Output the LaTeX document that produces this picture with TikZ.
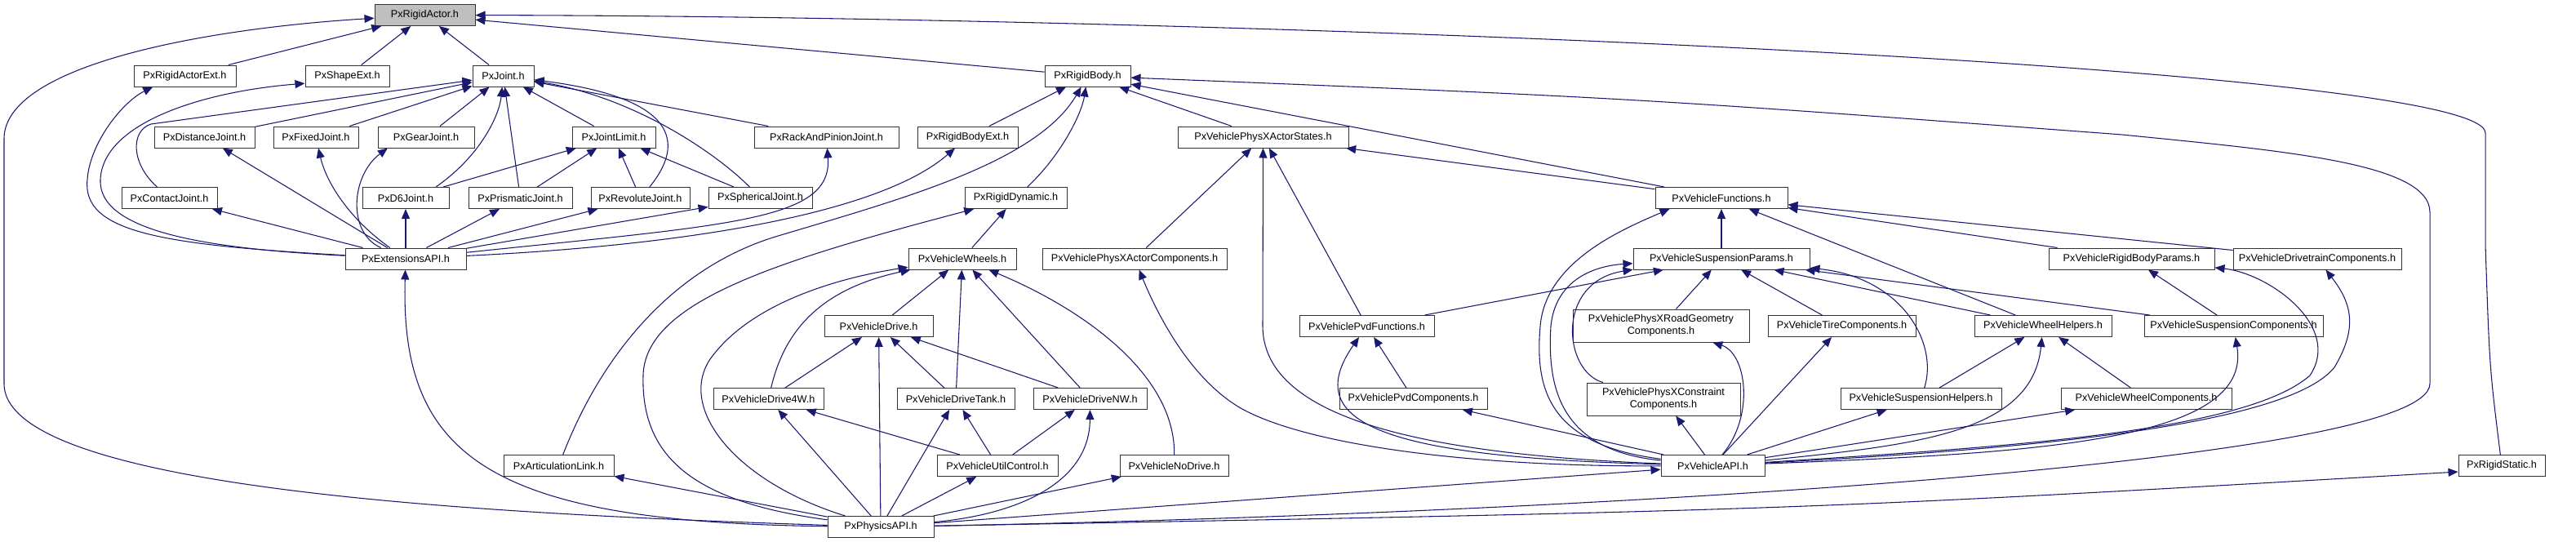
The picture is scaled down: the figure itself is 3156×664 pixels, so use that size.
\documentclass[tikz,border=0pt]{standalone}
\usepackage{fontspec}
\setmainfont{Liberation Sans}
\usepackage{xcolor}
\usepackage{tikz}
\usetikzlibrary{arrows.meta}
\definecolor{edgeblue}{HTML}{191970}
\definecolor{rootgray}{HTML}{BFBFBF}

\begin{document}
\begin{tikzpicture}[
  x=0.75pt, y=-0.75pt,
  file/.style={draw=black!80, line width=0.75pt, fill=white, minimum height=19.5pt, inner sep=0pt, align=center, font=\fontsize{9.5}{11.25}\selectfont},
  root/.style={file, fill=rootgray},
  tall/.style={file, minimum height=30pt},
  dep/.style={-{Triangle[length=9pt,width=7.5pt]}, line width=0.8pt, draw=edgeblue}
]
\useasboundingbox (0,0) rectangle (3156,664);

% row 1
\node[root, minimum width=92.25pt] (actor) at (520.5,18.5) {PxRigidActor.h};
% row 2
\node[file, minimum width=93.75pt] (actorext) at (226.5,93) {PxRigidActorExt.h};
\node[file, minimum width=77.25pt] (shapeext) at (425.5,93) {PxShapeExt.h};
\node[file, minimum width=56.25pt] (joint) at (616.5,93) {PxJoint.h};
\node[file, minimum width=78.75pt] (body) at (1332.5,93) {PxRigidBody.h};
% row 3
\node[file, minimum width=92.25pt] (distjoint) at (250.5,168) {PxDistanceJoint.h};
\node[file, minimum width=78pt] (fixedjoint) at (387,168) {PxFixedJoint.h};
\node[file, minimum width=88.5pt] (gearjoint) at (522,168) {PxGearJoint.h};
\node[file, minimum width=76.5pt] (jointlimit) at (752,168) {PxJointLimit.h};
\node[file, minimum width=132.75pt] (rackjoint) at (1012.5,168) {PxRackAndPinionJoint.h};
\node[file, minimum width=92.25pt] (bodyext) at (1185.5,168) {PxRigidBodyExt.h};
\node[file, minimum width=156.75pt] (actorstates) at (1547.5,168) {PxVehiclePhysXActorStates.h};
% row 4
\node[file, minimum width=87.75pt] (contactjoint) at (207.5,242.5) {PxContactJoint.h};
\node[file, minimum width=79.5pt] (dsixjoint) at (497,242.5) {PxD6Joint.h};
\node[file, minimum width=95.25pt] (prismjoint) at (637.5,242.5) {PxPrismaticJoint.h};
\node[file, minimum width=90.75pt] (revjoint) at (784.5,242.5) {PxRevoluteJoint.h};
\node[file, minimum width=95.25pt] (sphjoint) at (931.5,242.5) {PxSphericalJoint.h};
\node[file, minimum width=93.75pt] (dynamic) at (1244.5,242.5) {PxRigidDynamic.h};
\node[file, minimum width=121.5pt] (vfunctions) at (2109,242.5) {PxVehicleFunctions.h};
% row 5
\node[file, minimum width=111pt] (extapi) at (497,317) {PxExtensionsAPI.h};
\node[file, minimum width=99pt] (wheels) at (1179,317) {PxVehicleWheels.h};
\node[file, minimum width=169.5pt] (actorcomp) at (1390,317) {PxVehiclePhysXActorComponents.h};
\node[file, minimum width=162pt] (suspparams) at (2109,317) {PxVehicleSuspensionParams.h};
\node[file, minimum width=152.25pt] (rbparams) at (2611.5,317) {PxVehicleRigidBodyParams.h};
\node[file, minimum width=154.5pt] (drivetrain) at (2839,317) {PxVehicleDrivetrainComponents.h};
% row 6
\node[file, minimum width=99.75pt] (drive) at (1076.5,399.5) {PxVehicleDrive.h};
\node[file, minimum width=123.75pt] (pvdfunc) at (1674.5,399.5) {PxVehiclePvdFunctions.h};
\node[tall, minimum width=162pt] (roadgeom) at (2035,399) {PxVehiclePhysXRoadGeometry\\Components.h};
\node[file, minimum width=135.75pt] (tirecomp) at (2256.5,399.5) {PxVehicleTireComponents.h};
\node[file, minimum width=126pt] (wheelhelp) at (2503,399.5) {PxVehicleWheelHelpers.h};
\node[file, minimum width=164.25pt] (suspcomp) at (2736.5,399.5) {PxVehicleSuspensionComponents.h};
% row 7
\node[file, minimum width=101.25pt] (drivefour) at (941.5,488.5) {PxVehicleDrive4W.h};
\node[file, minimum width=108pt] (drivetank) at (1171,488.5) {PxVehicleDriveTank.h};
\node[file, minimum width=104.25pt] (drivenw) at (1335.5,488.5) {PxVehicleDriveNW.h};
\node[file, minimum width=135.75pt] (pvdcomp) at (1731.5,488.5) {PxVehiclePvdComponents.h};
\node[tall, minimum width=141pt] (constraint) at (2038,489) {PxVehiclePhysXConstraint\\Components.h};
\node[file, minimum width=147.75pt] (susphelp) at (2353.5,488.5) {PxVehicleSuspensionHelpers.h};
\node[file, minimum width=156.75pt] (wheelcomp) at (2629.5,488.5) {PxVehicleWheelComponents.h};
% row 8
\node[file, minimum width=101.25pt] (artlink) at (684.5,570.5) {PxArticulationLink.h};
\node[file, minimum width=111pt] (utilctrl) at (1222,570.5) {PxVehicleUtilControl.h};
\node[file, minimum width=99.75pt] (nodrive) at (1438.5,570.5) {PxVehicleNoDrive.h};
\node[file, minimum width=95.25pt] (vehicleapi) at (2098.5,570.5) {PxVehicleAPI.h};
\node[file, minimum width=79.5pt] (rigidstatic) at (3065,570.5) {PxRigidStatic.h};
% row 9
\node[file, minimum width=97.5pt] (physicsapi) at (1079,645.5) {PxPhysicsAPI.h};

% straight includes
\foreach \a/\b in {actorext/actor, shapeext/actor, joint/actor, body/actor,
  distjoint/joint, fixedjoint/joint, gearjoint/joint, prismjoint/joint, jointlimit/joint, rackjoint/joint,
  dsixjoint/jointlimit, prismjoint/jointlimit, revjoint/jointlimit, sphjoint/jointlimit,
  extapi/contactjoint, extapi/distjoint, extapi/dsixjoint, extapi/prismjoint, extapi/revjoint, extapi/sphjoint,
  bodyext/body, actorstates/body, vfunctions/body, wheels/dynamic,
  actorcomp/actorstates, pvdfunc/actorstates, vfunctions/actorstates,
  suspparams/vfunctions, wheelhelp/vfunctions, rbparams/vfunctions, drivetrain/vfunctions,
  pvdfunc/suspparams, roadgeom/suspparams, tirecomp/suspparams, wheelhelp/suspparams, suspcomp/suspparams,
  suspcomp/rbparams, susphelp/wheelhelp, wheelcomp/wheelhelp,
  vehicleapi/wheelcomp, vehicleapi/susphelp, vehicleapi/tirecomp, vehicleapi/constraint, vehicleapi/pvdcomp,
  pvdcomp/pvdfunc, physicsapi/vehicleapi, physicsapi/artlink,
  drive/wheels, drivetank/wheels, drivenw/wheels,
  drivefour/drive, physicsapi/drive, drivetank/drive, drivenw/drive,
  utilctrl/drivefour, physicsapi/drivefour, utilctrl/drivetank, physicsapi/drivetank, utilctrl/drivenw,
  physicsapi/utilctrl, physicsapi/nodrive}
  \draw[dep] (\a) -- (\b);

% curved includes
\draw[dep] (rigidstatic) .. controls (3050,450) .. (3045,300) -- (3045,163) .. controls (3045,80) and (1500,20) .. (actor);
\draw[dep] (physicsapi) .. controls (600,630) and (5,600) .. (5,470) -- (5,170) .. controls (5,80) and (250,35) .. (actor);
\draw[dep] (contactjoint) .. controls (160,200) and (160,160) .. (185,152) -- (joint);
\draw[dep] (dsixjoint.20) .. controls (590,190) and (612,140) .. (joint);
\draw[dep] (revjoint.50) .. controls (840,175) and (830,120) .. (joint);
\draw[dep] (sphjoint) .. controls (880,190) and (780,120) .. (joint);
\draw[dep] (extapi) .. controls (200,300) and (100,285) .. (107,220) .. controls (110,175) and (150,125) .. (actorext.199);
\draw[dep] (extapi) .. controls (260,305) and (120,285) .. (123,220) .. controls (126,150) and (250,112) .. (shapeext.190);
\draw[dep] (extapi) .. controls (430,270) and (400,225) .. (fixedjoint);
\draw[dep] (extapi) .. controls (425,285) and (430,215) .. (gearjoint.196);
\draw[dep] (extapi) .. controls (900,275) and (1020,270) .. (rackjoint);
\draw[dep] (extapi) .. controls (850,300) and (1080,260) .. (bodyext);
\draw[dep] (artlink) .. controls (735,440) and (820,330) .. (950,290) .. controls (1100,245) and (1270,200) .. (body);
\draw[dep] (dynamic) .. controls (1300,190) and (1325,140) .. (body);
\draw[dep] (physicsapi) .. controls (1900,630) and (2977,570) .. (2977,470) -- (2977,260) .. controls (2977,200) and (2800,185) .. (2600,165) .. controls (2000,120) .. (body);
\draw[dep] (physicsapi) .. controls (850,615) and (785,560) .. (788,460) .. controls (790,370) and (950,320) .. (dynamic);
\draw[dep] (vehicleapi) .. controls (1700,555) and (1548,500) .. (1547,400) -- (actorstates);
\draw[dep] (vehicleapi) .. controls (1800,572) and (1600,545) .. (1520,500) .. controls (1460,465) and (1420,390) .. (actorcomp);
\draw[dep] (vehicleapi) .. controls (1700,560) and (1590,520) .. (pvdfunc);
\draw[dep] (vehicleapi) .. controls (1900,545) and (1880,480) .. (1887,400) .. controls (1893,320) and (1990,280) .. (vfunctions.192);
\draw[dep] (vehicleapi) .. controls (1915,552) and (1895,480) .. (1900,400) .. controls (1905,345) and (1950,326) .. (suspparams.183);
\draw[dep] (constraint) .. controls (1915,455) and (1905,345) .. (suspparams.187);
\draw[dep] (susphelp) .. controls (2375,420) and (2330,340) .. (suspparams);
\draw[dep] (vehicleapi) .. controls (2450,548) and (2750,530) .. (2830,460) .. controls (2870,400) and (2780,335) .. (rbparams);
\draw[dep] (vehicleapi) .. controls (2450,552) and (2800,525) .. (2860,450) .. controls (2890,400) and (2880,370) .. (drivetrain);
\draw[dep] (vehicleapi) .. controls (2500,555) and (2760,540) .. (suspcomp);
\draw[dep] (vehicleapi) .. controls (2350,545) and (2490,530) .. (wheelhelp);
\draw[dep] (vehicleapi) .. controls (2150,510) and (2140,433) .. (roadgeom);
\draw[dep] (physicsapi) .. controls (2200,625) .. (rigidstatic.188);
\draw[dep] (physicsapi) .. controls (600,640) and (490,560) .. (extapi);
\draw[dep] (physicsapi) .. controls (900,590) and (830,500) .. (870,440) .. controls (920,370) and (1030,340) .. (wheels);
\draw[dep] (drivefour) .. controls (960,410) and (1000,355) .. (wheels);
\draw[dep] (nodrive) .. controls (1440,460) and (1330,380) .. (wheels);
\draw[dep] (physicsapi) .. controls (1250,630) and (1335,590) .. (drivenw);
\end{tikzpicture}
\end{document}
